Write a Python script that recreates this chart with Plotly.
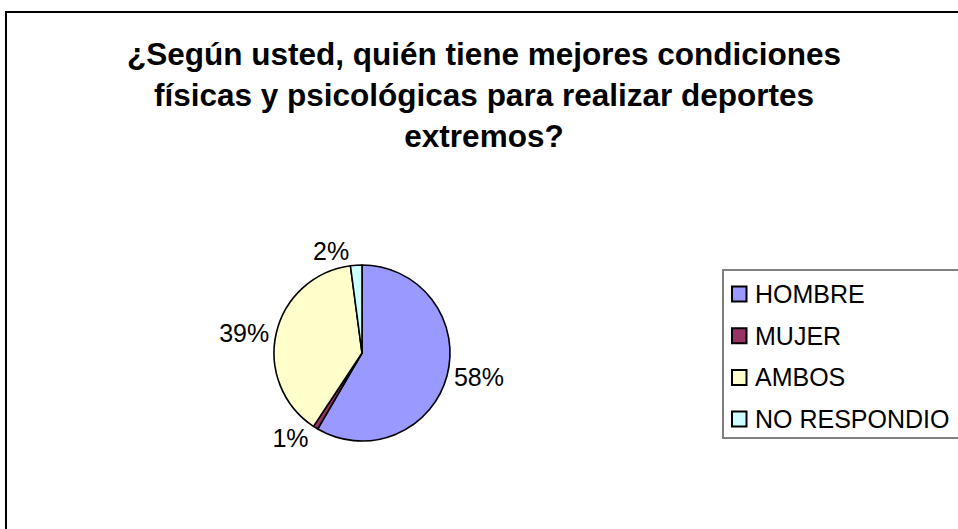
import plotly.graph_objects as go

W, H = 958, 529

# datos (porcentaje de respuestas)
categorias = ["HOMBRE", "MUJER", "AMBOS", "NO RESPONDIO"]
porcentajes = [58.4, 0.9, 38.6, 2.1]
colores = ["#9999FF", "#993366", "#FFFFCC", "#CCFFFF"]

titulo = ("¿Según usted, quién tiene mejores condiciones<br>"
          "físicas y psicológicas para realizar deportes<br>"
          "extremos?")

FUENTE = "Liberation Sans, Arial, sans-serif"


def px_x(v):
    return v / W


def px_y(v):
    # pixeles desde arriba -> coordenada paper
    return 1 - v / H


# pie: centro ~(362, 353), radio ~88
cx, cy, r = 362, 353, 88

fig = go.Figure()
fig.add_trace(
    go.Pie(
        labels=categorias,
        values=porcentajes,
        sort=False,
        direction="clockwise",
        rotation=0,
        marker=dict(colors=colores, line=dict(color="black", width=1.6)),
        textposition="outside",
        texttemplate="%{percent:.0%}",
        textfont=dict(family=FUENTE, size=25, color="black"),
        hoverinfo="label+percent",
        showlegend=False,
        domain=dict(x=[px_x(cx - r), px_x(cx + r)], y=[px_y(cy + r), px_y(cy - r)]),
    )
)

# marco exterior del área del gráfico (solo lados izquierdo y superior visibles)
fig.add_shape(
    type="path", xref="paper", yref="paper",
    path=f"M {px_x(6)},{px_y(H + 10)} L {px_x(6)},{px_y(12)} L {px_x(W + 10)},{px_y(12)}",
    line=dict(color="black", width=2),
)

# leyenda estilo Excel: el recuadro se sale por la derecha, como en el original
leg_x, leg_top, leg_bottom = 723, 270, 438
x_fin = px_x(W + 20)
fig.add_shape(
    type="path", xref="paper", yref="paper",
    path=(f"M {x_fin},{px_y(leg_top)} L {px_x(leg_x)},{px_y(leg_top)} "
          f"L {px_x(leg_x)},{px_y(leg_bottom)} L {x_fin},{px_y(leg_bottom)}"),
    line=dict(color="#808080", width=2),
)
paso = 41.7
for i, (nombre, color) in enumerate(zip(categorias, colores)):
    yc = 294 + i * paso
    fig.add_shape(
        type="rect", xref="paper", yref="paper",
        x0=px_x(732), x1=px_x(746.5), y0=px_y(yc + 7.5), y1=px_y(yc - 7.5),
        line=dict(color="black", width=2), fillcolor=color,
    )
    fig.add_annotation(
        xref="paper", yref="paper", x=px_x(753), y=px_y(yc),
        xanchor="left", yanchor="middle", showarrow=False,
        text=nombre, font=dict(family=FUENTE, size=25, color="black"),
    )

fig.update_layout(
    width=W,
    height=H,
    margin=dict(l=0, r=0, t=0, b=0),
    paper_bgcolor="white",
    plot_bgcolor="white",
    font=dict(family=FUENTE, color="black"),
    title=dict(
        text=titulo,
        x=px_x(484),
        xanchor="center",
        y=px_y(65),
        yanchor="top",
        font=dict(family=FUENTE, size=31.5, color="black", weight="bold"),
    ),
    showlegend=False,
)

# quitar el margen por defecto del <body> para que la figura empiece en (0, 0)
fig.write_html(
    "out.html",
    config={"displayModeBar": False},
    post_script="document.body.style.margin = '0';",
)
